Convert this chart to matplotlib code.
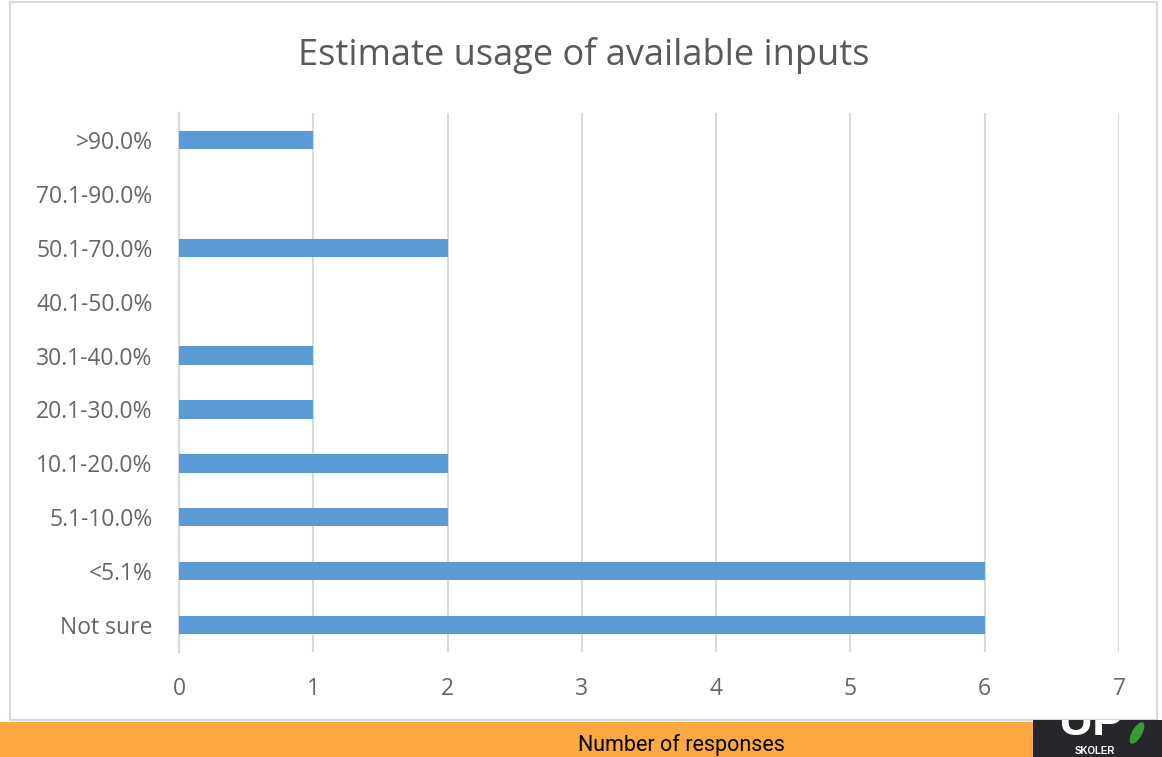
import matplotlib.pyplot as plt
from matplotlib.patches import Rectangle, Ellipse

plt.rcParams['font.family'] = ['Open Sans', 'DejaVu Sans']

categories = ['Not sure', '<5.1%', '5.1-10.0%', '10.1-20.0%', '20.1-30.0%',
              '30.1-40.0%', '40.1-50.0%', '50.1-70.0%', '70.1-90.0%', '>90.0%']
responses = [6, 6, 2, 2, 1, 1, 0, 2, 0, 1]
x_ticks = [0, 1, 2, 3, 4, 5, 6, 7]

W, H = 1162, 757
fig = plt.figure(figsize=(W / 100, H / 100), dpi=100)
fig.patch.set_facecolor('white')

# chart frame
fig.patches.append(Rectangle((10 / W, 1 - 720 / H), 1147 / W, 718 / H,
                             transform=fig.transFigure, fill=False,
                             edgecolor='#d9d9d9', linewidth=1.5))

ax = fig.add_axes([179 / W, 1 - 652 / H, 940 / W, 539 / H])
ax.barh(range(len(categories)), responses, height=0.34, color='#5b9bd5', zorder=3)
ax.set_xlim(0, 7)
ax.set_ylim(-0.5, len(categories) - 0.5)
ax.set_yticks(range(len(categories)))
ax.set_yticklabels(categories)
ax.set_xticks(x_ticks)
ax.tick_params(axis='both', length=0, labelsize=16.5, labelcolor='#666666')
ax.tick_params(axis='y', pad=19)
ax.tick_params(axis='x', pad=18)
ax.grid(axis='x', color='#d9d9d9', linewidth=1.5, zorder=0)
for side in ['top', 'right', 'bottom']:
    ax.spines[side].set_visible(False)
ax.spines['left'].set_color('#d9d9d9')
ax.spines['left'].set_linewidth(1.5)

fig.text(584 / W, 1 - 55 / H, 'Estimate usage of available inputs',
         ha='center', va='center', fontsize=26, color='#595959')

# orange footer with axis title
fig.patches.append(Rectangle((0, 0), 1, 35 / H, transform=fig.transFigure,
                             facecolor='#fba940', edgecolor='none'))
fig.text(681 / W, 12 / H, 'Number of responses', ha='center', va='center',
         fontsize=15.5, color='black',
         family=['Liberation Sans Narrow', 'Roboto', 'DejaVu Sans'])

# logo block in the bottom-right corner
logo = fig.add_axes([1033 / W, 0, 129 / W, 37 / H])
logo.set_zorder(5)
logo.set_xlim(0, 129)
logo.set_ylim(0, 37)
logo.axis('off')
logo.add_patch(Rectangle((0, 0), 129, 37, facecolor='#25272a', edgecolor='none'))
logo.text(58, 12, 'UP', ha='center', va='bottom', fontsize=34, fontweight='bold',
          color='white', family=['Liberation Sans', 'DejaVu Sans'], clip_on=True)
logo.add_patch(Ellipse((104, 24), 10, 24, angle=-30, facecolor='#3a9a3a',
                       edgecolor='none'))
logo.text(62, 1, 'SKOLER', ha='center', va='bottom', fontsize=7,
          fontweight='bold', color='white',
          family=['Liberation Sans', 'DejaVu Sans'])

fig.savefig('out.png', dpi=100)
